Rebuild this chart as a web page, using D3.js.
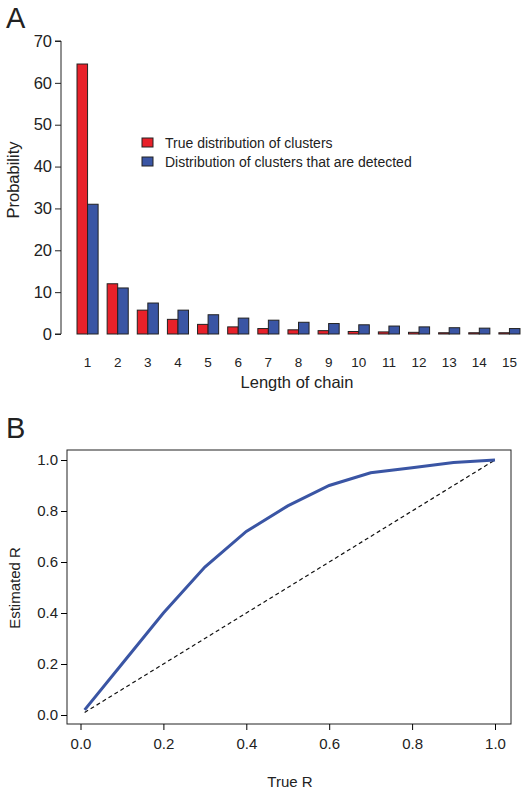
<!DOCTYPE html><html><head><script src="https://cdn.jsdelivr.net/npm/d3@7"></script>
<style>body{margin:0;background:#fff}text{font-family:"Liberation Sans",Arial,sans-serif;fill:#222}</style></head><body>
<svg id="s" width="524" height="800"></svg>
<script>
const chainLength=["1","2","3","4","5","6","7","8","9","10","11","12","13","14","15"];
const trueDist=[64.5,12,5.7,3.5,2.3,1.7,1.3,1.0,0.8,0.6,0.5,0.4,0.3,0.3,0.3];
const detectedDist=[31,11,7.4,5.7,4.6,3.8,3.3,2.8,2.5,2.2,1.9,1.7,1.5,1.4,1.3];
const yTicksA=[0,10,20,30,40,50,60,70];
const trueR=[0.01,0.1,0.2,0.3,0.4,0.5,0.6,0.7,0.8,0.9,1.0];
const estR=[0.02,0.2,0.4,0.58,0.72,0.82,0.9,0.95,0.97,0.99,1.0];
const identR=[0.01,0.1,0.2,0.3,0.4,0.5,0.6,0.7,0.8,0.9,1.0];
const ticksB=[0,0.2,0.4,0.6,0.8,1.0];
const RED="#e8212a",BLUE="#3a55a4";
const svg=d3.select("#s");
// Panel A
svg.append("text").attr("x",6).attr("y",28).attr("font-size",29).text("A");
const x=d3.scaleBand().domain(chainLength).range([74,523]).paddingInner(0.3).paddingOuter(0.1);
const y=d3.scaleLinear().domain([0,70]).range([334,41]);
const gA=svg.append("g");
const yA=gA.append("g").attr("transform","translate(61,0)").call(d3.axisLeft(y).tickValues(yTicksA).tickSize(6).tickPadding(3));
yA.selectAll("text").attr("font-size",16.5);
yA.selectAll("path,line").attr("stroke","#222").attr("stroke-width",1);
yA.select(".domain").attr("d","M-6,41H0V334H-6");
const bw=x.bandwidth()/2;
gA.selectAll("rect.r").data(trueDist).join("rect").attr("x",(d,i)=>x(chainLength[i])).attr("width",bw).attr("y",d=>y(d)).attr("height",d=>y(0)-y(d)).attr("fill",RED).attr("stroke","#222").attr("stroke-width",1);
gA.selectAll("rect.b").data(detectedDist).join("rect").attr("x",(d,i)=>x(chainLength[i])+bw).attr("width",bw).attr("y",d=>y(d)).attr("height",d=>y(0)-y(d)).attr("fill",BLUE).attr("stroke","#222").attr("stroke-width",1);
gA.selectAll("text.xl").data(chainLength).join("text").attr("x",d=>x(d)+bw).attr("y",367).attr("text-anchor","middle").attr("font-size",13.5).text(d=>d);
gA.append("text").attr("x",297).attr("y",388).attr("text-anchor","middle").attr("font-size",16.5).text("Length of chain");
gA.append("text").attr("transform","translate(19,180) rotate(-90)").attr("text-anchor","middle").attr("font-size",16.5).text("Probability");
[[RED,"True distribution of clusters",138],[BLUE,"Distribution of clusters that are detected",157]].forEach(([c,t,yy])=>{
 gA.append("rect").attr("x",142).attr("y",yy).attr("width",11).attr("height",9).attr("fill",c).attr("stroke","#222");
 gA.append("text").attr("x",165).attr("y",yy+10).attr("font-size",14).text(t);
});
// Panel B
svg.append("text").attr("x",6).attr("y",438).attr("font-size",29).text("B");
const xb=d3.scaleLinear().domain([0,1]).range([80.5,495]);
const yb=d3.scaleLinear().domain([0,1]).range([715,460]);
svg.append("rect").attr("x",67).attr("y",450).attr("width",444).attr("height",274).attr("fill","none").attr("stroke","#222");
const xa=svg.append("g").attr("transform","translate(0,724)").call(d3.axisBottom(xb).tickValues(ticksB).tickFormat(d3.format(".1f")).tickSize(6).tickPadding(8));
xa.select(".domain").remove();xa.selectAll("text").attr("font-size",15);
const ya=svg.append("g").attr("transform","translate(67,0)").call(d3.axisLeft(yb).tickValues(ticksB).tickFormat(d3.format(".1f")).tickSize(6).tickPadding(3));
ya.select(".domain").remove();ya.selectAll("text").attr("font-size",15);
svg.append("text").attr("x",290).attr("y",787).attr("text-anchor","middle").attr("font-size",15).text("True R");
svg.append("text").attr("transform","translate(20,588) rotate(-90)").attr("text-anchor","middle").attr("font-size",15).text("Estimated R");
const line=d3.line().x(d=>xb(d[0])).y(d=>yb(d[1]));
svg.append("path").attr("d",line(trueR.map((v,i)=>[v,identR[i]]))).attr("fill","none").attr("stroke","#111").attr("stroke-width",1.2).attr("stroke-dasharray","4,3");
svg.append("path").attr("d",line(trueR.map((v,i)=>[v,estR[i]]))).attr("fill","none").attr("stroke",BLUE).attr("stroke-width",3);
</script></body></html>
